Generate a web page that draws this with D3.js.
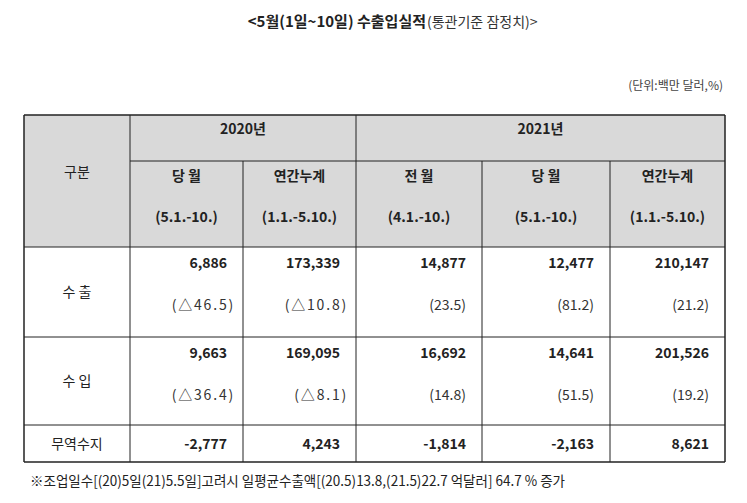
<!DOCTYPE html>
<html><head><meta charset="utf-8">
<script src="https://cdn.jsdelivr.net/npm/d3@7"></script>
<style>body{margin:0;background:#fff}</style>
</head><body>
<script>
const years = ["2020년", "2021년"];
const colHeads = ["당 월", "연간누계", "전 월", "당 월", "연간누계"];
const colPeriods = ["(5.1.-10.)", "(1.1.-5.10.)", "(4.1.-10.)", "(5.1.-10.)", "(1.1.-5.10.)"];
const rowLabels = ["수 출", "수 입", "무역수지"];
const values = [
  ["6,886", "173,339", "14,877", "12,477", "210,147"],
  ["9,663", "169,095", "16,692", "14,641", "201,526"],
  ["-2,777", "4,243", "-1,814", "-2,163", "8,621"]
];
const changes = [
  ["(△46.5)", "(△10.8)", "(23.5)", "(81.2)", "(21.2)"],
  ["(△36.4)", "(△8.1)", "(14.8)", "(51.5)", "(19.2)"]
];
const title = "<5월(1일~10일) 수출입실적";
const titleSub = "(통관기준 잠정치)>";
const unit = "(단위:백만 달러,%)";
const note = "※조업일수[(20)5일(21)5.5일]고려시 일평균수출액[(20.5)13.8,(21.5)22.7 억달러] 64.7 % 증가";

const W = 747, H = 503;
const font = "'Noto Sans CJK KR', 'Noto Sans', sans-serif";
const svg = d3.select("body").append("svg").attr("width", W).attr("height", H)
  .style("font-family", font);

const x = d3.scaleOrdinal().domain(d3.range(7)).range([24, 130, 243, 356, 482, 610, 725]);
const y = d3.scaleOrdinal().domain(["top", "yr", "head", "r0", "r1", "r2"]).range([115, 161, 247, 337, 425, 462]);

// header fill
svg.append("rect").attr("x", x(0)).attr("y", y("top")).attr("width", x(6) - x(0))
  .attr("height", y("head") - y("top")).attr("fill", "#d9d9d9");

const line = (x1, y1, x2, y2, w) => svg.append("line").attr("x1", x1).attr("y1", y1)
  .attr("x2", x2).attr("y2", y2).attr("stroke", "#222").attr("stroke-width", w || 1);

["top", "head", "r0", "r1", "r2"].forEach(k => line(x(0), y(k), x(6), y(k), k === "top" || k === "r2" ? 1.5 : 1));
line(x(1), y("yr"), x(6), y("yr"));
d3.range(7).forEach(i => {
  const y1 = (i === 2 || i === 4 || i === 5) ? y("yr") : y("top");
  line(x(i), y1, x(i), y("r2"), i === 0 || i === 6 ? 1.5 : 1);
});

const txt = (s, tx, ty, o) => {
  o = o || {};
  return svg.append("text").attr("x", tx).attr("y", ty).text(s)
    .attr("font-size", o.size || 14).attr("font-weight", o.bold ? "bold" : "normal")
    .attr("fill", o.fill || "#222").attr("text-anchor", o.anchor || "middle");
};

txt(title, 425, 27, {size: 15, bold: true, anchor: "end"}).attr("x", 426);
txt(titleSub, 427, 27, {size: 14, anchor: "start"}).attr("fill", "#333");
txt(unit, 723, 90, {size: 12, anchor: "end", fill: "#444"});

txt("구분", (x(0) + x(1)) / 2, 177, {size: 14});
txt(years[0], (x(1) + x(3)) / 2, 134, {bold: true});
txt(years[1], (x(3) + x(6)) / 2, 134, {bold: true});
colHeads.forEach((h, i) => {
  const cx = (x(i + 1) + x(i + 2)) / 2;
  txt(h, cx, 181, {bold: true});
  txt(colPeriods[i], cx, 222, {bold: true});
});

rowLabels.forEach((r, ri) => {
  const top = [y("head"), y("r0"), y("r1")][ri];
  const bot = [y("r0"), y("r1"), y("r2")][ri];
  const single = ri === 2;
  txt(r, (x(0) + x(1)) / 2, single ? 449 : (top + bot) / 2 + 5, {size: 14});
  values[ri].forEach((v, ci) => {
    txt(v, x(ci + 2) - 16, single ? 449 : top + 21, {bold: true, anchor: "end"});
    if (!single) {
      const t = txt(changes[ri][ci], x(ci + 2) - (ci < 2 ? 8 : 16), top + 63, {anchor: "end", fill: "#333"});
      if (ci < 2) t.attr("letter-spacing", 1.8);
    }
  });
});

txt(note, 30, 486, {size: 14, anchor: "start"}).attr("textLength", 535).attr("lengthAdjust", "spacingAndGlyphs");
</script>
</body></html>
